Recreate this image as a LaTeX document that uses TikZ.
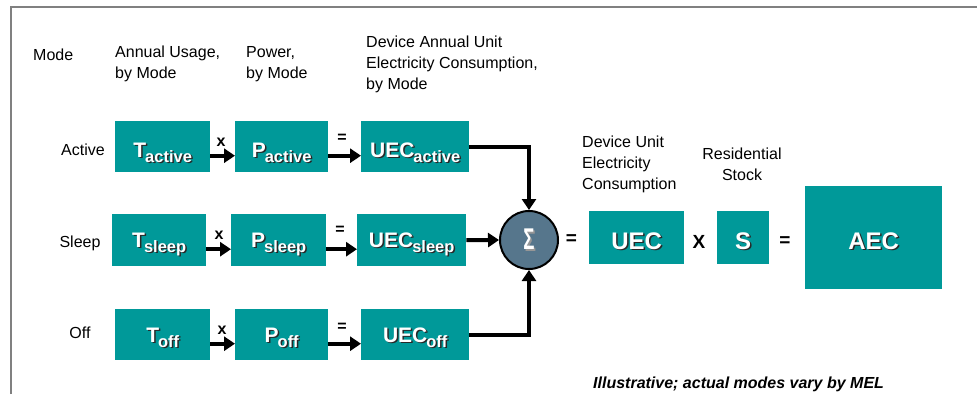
\documentclass[tikz,border=0pt]{standalone}
\usepackage{fontspec}
\setmainfont{Liberation Sans}
\usetikzlibrary{arrows.meta,calc}

\definecolor{boxteal}{RGB}{0,153,153}
\definecolor{sigfill}{RGB}{86,118,140}
\definecolor{framegray}{RGB}{128,128,128}
\definecolor{shadowc}{RGB}{40,40,40}
\definecolor{sigshadow}{RGB}{150,150,150}

% white text with a dark drop shadow
\newcommand\shd[1]{\leavevmode\rlap{\kern1.5pt\raisebox{-1.5pt}{\color{shadowc}#1}}{\color{white}#1}}
% white text with a light drop shadow
\newcommand\lshd[1]{\leavevmode\rlap{\kern1.5pt\raisebox{-1.5pt}{\color{sigshadow}#1}}{\color{white}#1}}
% symbol with a lowered, smaller mode subscript
\newcommand\withsub[2]{#1\kern-1pt\raisebox{-5pt}{\fontsize{16.5}{16.5}\selectfont #2}}
% stacked header lines, baseline at the first line
\newcommand\linesl[1]{\begin{tabular}[t]{@{}l@{}}#1\end{tabular}}
\newcommand\linesc[1]{\begin{tabular}[t]{@{}c@{}}#1\end{tabular}}

\tikzset{
  box/.style={fill=boxteal, inner sep=0pt, anchor=north west,
    font=\bfseries\fontsize{21}{21}\selectfont},
  bigbox/.style={box, font=\bfseries\fontsize{24}{24}\selectfont},
  hdr/.style={inner sep=0pt, anchor=base west, font=\fontsize{16}{21}\selectfont},
  rowlbl/.style={inner sep=0pt, anchor=base, font=\fontsize{16}{21}\selectfont},
  op/.style={inner sep=0pt, font=\bfseries\fontsize{16}{16}\selectfont},
  bigop/.style={inner sep=0pt, font=\bfseries\fontsize{19}{19}\selectfont},
  arr/.style={line width=4pt, -{Triangle[length=11pt,width=14pt]}},
}

\begin{document}
\begin{tikzpicture}[x=1pt,y=-1pt]
\useasboundingbox (0,0) rectangle (977,394);

% frame
\draw[framegray, line width=2pt] (11,394) -- (11,6.5) -- (977,6.5);

% column headers
\node[hdr] (hmode) at (33,60) {Mode};
\node[hdr] (husage) at (115,57) {\linesl{Annual Usage,\\by Mode}};
\node[hdr] (hpower) at (246,57) {\linesl{Power,\\by Mode}};
\node[hdr] (huecm) at (366,47) {\linesl{Device Annual Unit\\Electricity Consumption,\\by Mode}};
\node[hdr] (huec) at (582,147) {\linesl{Device Unit\\Electricity\\Consumption}};
\node[hdr, anchor=base] (hstock) at (742,159) {\linesc{Residential\\Stock}};

% row labels
\node[rowlbl] (ract) at (83,155) {Active};
\node[rowlbl] (rslp) at (80,247) {Sleep};
\node[rowlbl] (roff) at (80,338) {Off};

% active row
\node[box, minimum width=95pt, text height=36pt, text depth=15pt] (Ta) at (115,121) {\shd{\withsub{T}{active}}};
\node[box, minimum width=93pt, text height=36pt, text depth=15pt] (Pa) at (235,121) {\shd{\withsub{P}{active}}};
\node[box, minimum width=108pt, text height=36pt, text depth=15pt] (Ua) at (361,121) {\shd{\withsub{UEC}{active}}};

% sleep row
\node[box, minimum width=94pt, text height=33pt, text depth=19pt] (Ts) at (112,214) {\shd{\withsub{T}{sleep}}};
\node[box, minimum width=95pt, text height=33pt, text depth=19pt] (Ps) at (231,214) {\shd{\withsub{P}{sleep}}};
\node[box, minimum width=109pt, text height=33pt, text depth=19pt] (Us) at (357,214) {\shd{\withsub{UEC}{sleep}}};

% off row
\node[box, minimum width=95pt, text height=33pt, text depth=18pt] (To) at (115,309) {\shd{\withsub{T}{off}}};
\node[box, minimum width=93pt, text height=33pt, text depth=18pt] (Po) at (235,309) {\shd{\withsub{P}{off}}};
\node[box, minimum width=108pt, text height=33pt, text depth=18pt] (Uo) at (361,309) {\shd{\withsub{UEC}{off}}};

% row operators
\node[op, anchor=base] (xa) at (221,146.5) {x};
\node[op] (ea) at (342,138) {=};
\node[op, anchor=base] (xs) at (219,239) {x};
\node[op] (es) at (340,230) {=};
\node[op, anchor=base] (xo) at (222,334) {x};
\node[op] (eo) at (342,327) {=};

% row arrows
\foreach \a/\b in {Ta/Pa, Pa/Ua, Ts/Ps, Ps/Us, To/Po, Po/Uo}
  \draw[arr] ([yshift=-9pt]\a.east) -- ([yshift=-9pt]\b.west);

% summation node
\node[circle, fill=sigfill, draw=black, line width=2pt, minimum size=58pt, inner sep=0pt] (sig) at (529,240)
  {\lshd{\bfseries\scalebox{0.62}[1]{\fontsize{30}{30}\selectfont Σ}}};

\draw[arr] (Ua.east) -| (sig.north);
\draw[arr] (Us.east) -- (sig.west);
\draw[arr] (Uo.east) -| (sig.south);

% totals
\node[bigop] (esum) at (571.5,240) {=};
\node[bigbox, minimum width=95pt, text height=38pt, text depth=15pt] (UEC) at (589,211) {\shd{UEC}};
\node[bigop] (xstock) at (699,242) {X};
\node[bigbox, minimum width=52pt, text height=38pt, text depth=15pt] (S) at (717,211) {\shd{S}};
\node[bigop] (eaec) at (785,242) {=};
\node[bigbox, minimum width=137pt, text height=63pt, text depth=40pt] (AEC) at (805,186) {\shd{AEC}};

% note
\node[hdr, font=\bfseries\itshape\fontsize{16}{21}\selectfont] (note) at (593,388) {Illustrative; actual modes vary by MEL};
\end{tikzpicture}
\end{document}
